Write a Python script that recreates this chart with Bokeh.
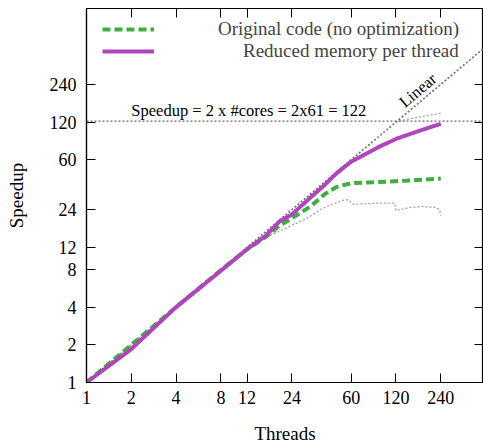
import math
from bokeh.plotting import figure
from bokeh.models import FixedTicker, LogAxis, Span, Legend, LegendItem
from bokeh.core.properties import value
from bokeh.embed import file_html
from bokeh.resources import INLINE

# ---- data ----
tick_values = [1, 2, 4, 8, 12, 24, 60, 120, 240]

threads_orig = [1, 2, 4, 8, 12, 16, 20, 24, 32, 40, 48, 60, 90, 120, 180, 240]
speedup_orig = [1, 2.0, 4.0, 7.9, 11.6, 14.5, 18.0, 20.5, 25.5, 32.0, 36.5, 39.0, 39.8, 40.5, 41.5, 42.5]

threads_red = [1, 2, 4, 8, 12, 16, 20, 24, 32, 40, 48, 60, 90, 120, 180, 240]
speedup_red = [1, 1.85, 4.0, 7.8, 11.6, 14.8, 19.5, 22.0, 30.0, 38.0, 47.0, 58.0, 75.0, 88.0, 104.0, 116.0]

threads_low = [1, 2, 4, 8, 12, 16, 18, 24, 30, 38, 48, 55, 58, 62, 90, 118, 120, 150, 180, 220, 236, 240]
speedup_low = [1, 2, 4, 8, 11.8, 14.6, 15.3, 18.0, 20.3, 24.4, 27.3, 28.9, 28.5, 26.5, 27.0, 27.1, 23.6, 25.0, 25.4, 25.0, 24.0, 21.5]

threads_high = [90, 120, 180, 240]
speedup_high = [90, 121, 133, 141]

threads_lin = [1, 512]
speedup_lin = [1, 512]

cores_limit = 122

FONT = "Liberation Serif"

p = figure(width=483, height=448, x_axis_type="log", y_axis_type="log",
           x_range=(1, 465), y_range=(1, 969),
           output_backend="svg", toolbar_location=None,
           min_border_left=86, min_border_right=0, min_border_top=8, min_border_bottom=66)
p.xgrid.visible = False
p.ygrid.visible = False
p.outline_line_color = "black"
p.outline_line_width = 1.2
p.background_fill_color = "white"
p.border_fill_color = "white"

for ax in (p.xaxis[0], p.yaxis[0]):
    ax.ticker = FixedTicker(ticks=tick_values, minor_ticks=[])
    ax.major_label_overrides = {t: str(t) for t in tick_values}
    ax.major_tick_in = 9
    ax.major_tick_out = 0
    ax.minor_tick_line_color = None
    ax.axis_line_color = "black"
    ax.axis_line_width = 1.2
    ax.major_tick_line_color = "black"
    ax.major_label_text_font = FONT
    ax.major_label_text_font_size = "18px"
    ax.major_label_text_color = "black"
    ax.axis_label_text_font = FONT
    ax.axis_label_text_font_size = "19px"
    ax.axis_label_text_font_style = "normal"
    ax.axis_label_text_color = "black"

p.xaxis[0].axis_label = "Threads"
p.yaxis[0].axis_label = "Speedup"
p.xaxis[0].major_label_standoff = 8
p.yaxis[0].major_label_standoff = 10
p.xaxis[0].axis_label_standoff = 16
p.yaxis[0].axis_label_standoff = 20

# mirrored ticks on top and right (no labels)
def mirror_axis():
    return LogAxis(ticker=FixedTicker(ticks=tick_values, minor_ticks=[]),
                   major_tick_in=9, major_tick_out=0, minor_tick_line_color=None,
                   axis_line_color=None, major_label_overrides={t: "" for t in tick_values},
                   major_label_standoff=0, major_tick_line_color="black")

p.add_layout(mirror_axis(), "above")
p.add_layout(mirror_axis(), "right")

# reference lines
p.add_layout(Span(location=cores_limit, dimension="width", line_color="#666666",
                  line_dash="2 2", line_width=1.3))
p.line(threads_lin, speedup_lin, line_color="#707070", line_dash="2 2", line_width=1.7)
p.line(threads_low, speedup_low, line_color="#a0a0a0", line_dash="2 2", line_width=1.3)
p.line(threads_high, speedup_high, line_color="#a0a0a0", line_dash="2 2", line_width=1.3)

p.text(x=[2.0], y=[cores_limit], text=["Speedup = 2 x #cores = 2x61 = 122"],
       text_font=value(FONT), text_font_size="16.5px", text_color="black",
       text_baseline="bottom", text_align="left", y_offset=-1)
angle = math.atan(374 / math.log2(969) / (397 / math.log2(465)))
p.text(x=[185], y=[185], text=["Linear"], angle=angle,
       text_font=value(FONT), text_font_size="16.5px", text_color="black",
       text_baseline="bottom", text_align="center", y_offset=-1)

r_orig = p.line(threads_orig, speedup_orig, line_color="#3fad3f", line_width=4, line_dash="8 4")
r_red = p.line(threads_red, speedup_red, line_color="#b044bb", line_width=4)

# two one-item legends so that their labels end at the same right edge
common = dict(margin=0, padding=0, spacing=0, glyph_width=52, glyph_height=22,
              label_height=22, label_text_font=FONT, label_text_font_size="19px",
              border_line_color=None, background_fill_alpha=0)
legend1 = Legend(items=[LegendItem(label="Original code (no optimization)", renderers=[r_orig])],
                 location=(16, 342), label_standoff=64, **common)
legend2 = Legend(items=[LegendItem(label="Reduced memory per thread", renderers=[r_red])],
                 location=(16, 320), label_standoff=89, **common)
p.add_layout(legend1, "center")
p.add_layout(legend2, "center")

open("out.html", "w").write(file_html(p, INLINE))
